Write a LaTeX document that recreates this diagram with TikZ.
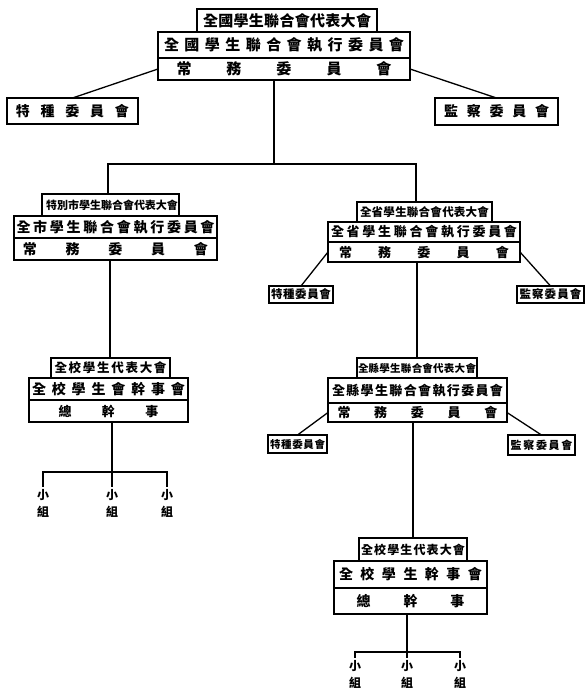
\documentclass[tikz,border=0pt]{standalone}
\usepackage{fontspec}
\newfontfamily\cjk{Noto Sans CJK TC}
\def\spreadA#1{#1\spreadB}
\def\spreadB#1{\ifx#1\relax\else\hfill#1\expandafter\spreadB\fi}
\newcommand\spr[3]{{\fontsize{#1}{#1}\selectfont\cjk\bfseries\makebox[#2][s]{\spreadA#3\relax}}}
\begin{document}
\begin{tikzpicture}[x=1pt,y=-1pt,
  box/.style={draw,line width=1.5pt,inner sep=0pt,outer sep=0pt,anchor=center},
  wire/.style={line width=1.3pt},
  grp/.style={inner sep=2pt,align=center,font=\fontsize{12pt}{17pt}\selectfont\cjk\bfseries}]
\useasboundingbox (0,0) rectangle (585,689);
% ---------- top group
\node[box,minimum width=180pt,minimum height=23pt] (A1) at (287,20.5) {\spr{15pt}{168pt}{全國學生聯合會代表大會}};
\node[box,minimum width=252pt,minimum height=26pt] (A2) at (284,45) {\spr{15pt}{240pt}{全國學生聯合會執行委員會}};
\node[box,minimum width=252pt,minimum height=22pt] (A3) at (284,69) {\spr{15pt}{215pt}{常務委員會}};
\node[box,minimum width=131pt,minimum height=26pt] (Bt) at (72.5,111) {\spr{14pt}{113pt}{特種委員會}};
\node[box,minimum width=123pt,minimum height=27pt] (Cm) at (496.5,111.5) {\spr{14pt}{105pt}{監察委員會}};
% ---------- left (city)
\node[box,minimum width=137pt,minimum height=22pt] (D1) at (110.5,205) {\spr{11pt}{129pt}{特別市學生聯合會代表大會}};
\node[box,minimum width=203pt,minimum height=22pt] (D2) at (115.5,227) {\spr{14pt}{198pt}{全市學生聯合會執行委員會}};
\node[box,minimum width=203pt,minimum height=22pt] (D3) at (115.5,249) {\spr{14pt}{185pt}{常務委員會}};
% ---------- left lower (school)
\node[box,minimum width=119pt,minimum height=20pt] (E1) at (110.5,368) {\spr{12.5pt}{112pt}{全校學生代表大會}};
\node[box,minimum width=159pt,minimum height=22pt] (E2) at (108.5,389) {\spr{14pt}{153pt}{全校學生會幹事會}};
\node[box,minimum width=159pt,minimum height=22pt] (E3) at (108.5,411) {\spr{13pt}{100pt}{總幹事}};
\node[grp] (xa) at (43,503) {小\\組};
\node[grp] (xb) at (112,503) {小\\組};
\node[grp] (xc) at (167,503) {小\\組};
% ---------- right (province)
\node[box,minimum width=135pt,minimum height=20pt] (F1) at (424.5,212) {\spr{11.5pt}{129pt}{全省學生聯合會代表大會}};
\node[box,minimum width=192pt,minimum height=20pt] (F2) at (424,232) {\spr{13pt}{186pt}{全省學生聯合會執行委員會}};
\node[box,minimum width=192pt,minimum height=20pt] (F3) at (424,252) {\spr{13pt}{170pt}{常務委員會}};
\node[box,minimum width=64pt,minimum height=17pt] (Fs) at (301,294.5) {\spr{11.5pt}{60pt}{特種委員會}};
\node[box,minimum width=67pt,minimum height=17pt] (Fm) at (550.5,294.5) {\spr{11.5pt}{62pt}{監察委員會}};
% ---------- right lower (county)
\node[box,minimum width=120pt,minimum height=20pt] (G1) at (417,368) {\spr{10.5pt}{118pt}{全縣學生聯合會代表大會}};
\node[box,minimum width=179pt,minimum height=25pt] (G2) at (417.5,390.5) {\spr{13pt}{171pt}{全縣學生聯合會執行委員會}};
\node[box,minimum width=179pt,minimum height=19pt] (G3) at (417.5,412.5) {\spr{13pt}{160pt}{常務委員會}};
\node[box,minimum width=59pt,minimum height=18pt] (Gs) at (297.5,444) {\spr{10.5pt}{55pt}{特種委員會}};
\node[box,minimum width=67pt,minimum height=20pt] (Gm) at (541.5,445) {\spr{11pt}{62pt}{監察委員會}};
% ---------- bottom (school)
\node[box,minimum width=108pt,minimum height=23pt] (H1) at (413,549.5) {\spr{12pt}{104pt}{全校學生代表大會}};
\node[box,minimum width=153pt,minimum height=27pt] (H2) at (410.5,574.5) {\spr{14pt}{143pt}{全校學生幹事會}};
\node[box,minimum width=153pt,minimum height=26pt] (H3) at (410.5,601) {\spr{14pt}{108pt}{總幹事}};
\node[grp] (ya) at (355,674) {小\\組};
\node[grp] (yb) at (407,674) {小\\組};
\node[grp] (yc) at (460,674) {小\\組};
% ---------- connectors
\coordinate (j1) at (274,164);
\coordinate (jl) at (108,164);
\coordinate (jr) at (416,164);
\draw[wire] (A3.south -| j1) -- (j1);
\draw[wire] (jl |- D1.north) -- (jl) -- (jr) -- (jr |- F1.north);
\draw[wire] (Bt.north) -- (A3.west);
\draw[wire] (Cm.north) -- (A3.east);
\coordinate (lx) at (110,300);
\draw[wire] (lx |- D3.south) -- (lx |- E1.north);
\coordinate (sa) at (43,472);
\coordinate (sm) at (112,472);
\coordinate (sb) at (167,472);
\draw[wire] (sm |- E3.south) -- (sm |- xb.north);
\draw[wire] (sa |- xa.north) -- (sa) -- (sb) -- (sb |- xc.north);
\coordinate (rx) at (417,300);
\draw[wire] (rx |- F3.south) -- (rx |- G1.north);
\draw[wire] (Fs.north) -- (F3.west);
\draw[wire] (Fm.north) -- (F3.east);
\coordinate (cx) at (413,480);
\draw[wire] (cx |- G3.south) -- (cx |- H1.north);
\draw[wire] (Gs.north) -- (G3.west);
\draw[wire] (Gm.north) -- (G3.east);
\coordinate (ta) at (355,652);
\coordinate (tm) at (407,652);
\coordinate (tb) at (460,652);
\draw[wire] (tm |- H3.south) -- (tm |- yb.north);
\draw[wire] (ta |- ya.north) -- (ta) -- (tb) -- (tb |- yc.north);
\end{tikzpicture}
\end{document}
